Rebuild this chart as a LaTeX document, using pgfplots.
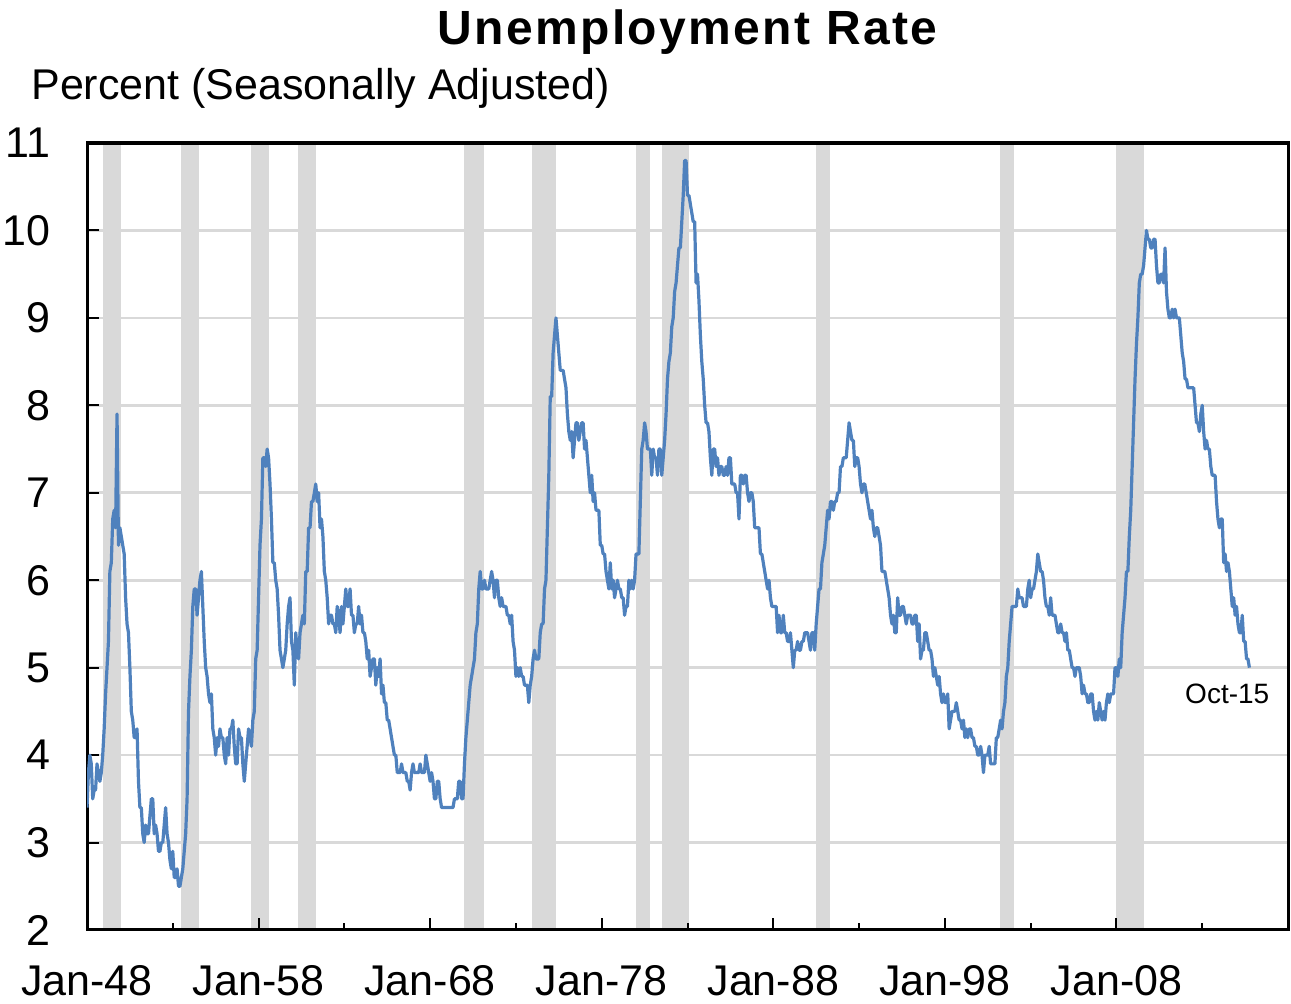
\documentclass[border=0pt]{standalone}
\usepackage{pgfplots}
\pgfplotsset{compat=1.18}
\usepackage{pgfplotstable}
\usepackage{fontspec}
\setmainfont{Liberation Sans}
\newfontfamily\titlefont[LetterSpace=5]{Liberation Sans}
\definecolor{lineblue}{RGB}{79,129,189}
\definecolor{recgray}{RGB}{217,217,217}

% US unemployment rate, monthly, Jan 1948 - Oct 2015 (row index = months since Jan 1948)
\pgfplotstableread[row sep=\\]{
u\\
3.4\\3.8\\4.0\\3.9\\3.5\\3.6\\3.6\\3.9\\3.8\\3.7\\3.8\\4.0\\
4.3\\4.7\\5.0\\5.3\\6.1\\6.2\\6.7\\6.8\\6.6\\7.9\\6.4\\6.6\\
6.5\\6.4\\6.3\\5.8\\5.5\\5.4\\5.0\\4.5\\4.4\\4.2\\4.2\\4.3\\
3.7\\3.4\\3.4\\3.1\\3.0\\3.2\\3.1\\3.1\\3.3\\3.5\\3.5\\3.1\\
3.2\\3.1\\2.9\\2.9\\3.0\\3.0\\3.2\\3.4\\3.1\\3.0\\2.8\\2.7\\
2.9\\2.6\\2.6\\2.7\\2.5\\2.5\\2.6\\2.7\\2.9\\3.1\\3.5\\4.5\\
4.9\\5.2\\5.7\\5.9\\5.9\\5.6\\5.8\\6.0\\6.1\\5.7\\5.3\\5.0\\
4.9\\4.7\\4.6\\4.7\\4.3\\4.2\\4.0\\4.2\\4.1\\4.3\\4.2\\4.2\\
4.0\\3.9\\4.2\\4.0\\4.3\\4.3\\4.4\\4.1\\3.9\\3.9\\4.3\\4.2\\
4.2\\3.9\\3.7\\3.9\\4.1\\4.3\\4.2\\4.1\\4.4\\4.5\\5.1\\5.2\\
5.8\\6.4\\6.7\\7.4\\7.4\\7.3\\7.5\\7.4\\7.1\\6.7\\6.2\\6.2\\
6.0\\5.9\\5.6\\5.2\\5.1\\5.0\\5.1\\5.2\\5.5\\5.7\\5.8\\5.3\\
5.2\\4.8\\5.4\\5.2\\5.1\\5.4\\5.5\\5.6\\5.5\\6.1\\6.1\\6.6\\
6.6\\6.9\\6.9\\7.0\\7.1\\6.9\\7.0\\6.6\\6.7\\6.5\\6.1\\6.0\\
5.8\\5.5\\5.6\\5.6\\5.5\\5.5\\5.4\\5.7\\5.6\\5.4\\5.7\\5.5\\
5.7\\5.9\\5.7\\5.7\\5.9\\5.6\\5.6\\5.4\\5.5\\5.5\\5.7\\5.5\\
5.6\\5.4\\5.4\\5.3\\5.1\\5.2\\4.9\\5.0\\5.1\\5.1\\4.8\\5.0\\
4.9\\5.1\\4.7\\4.8\\4.6\\4.6\\4.4\\4.4\\4.3\\4.2\\4.1\\4.0\\
4.0\\3.8\\3.8\\3.8\\3.9\\3.8\\3.8\\3.8\\3.7\\3.7\\3.6\\3.8\\
3.9\\3.8\\3.8\\3.8\\3.8\\3.9\\3.8\\3.8\\3.8\\4.0\\3.9\\3.8\\
3.7\\3.8\\3.7\\3.5\\3.5\\3.7\\3.7\\3.5\\3.4\\3.4\\3.4\\3.4\\
3.4\\3.4\\3.4\\3.4\\3.4\\3.5\\3.5\\3.5\\3.7\\3.7\\3.5\\3.5\\
3.9\\4.2\\4.4\\4.6\\4.8\\4.9\\5.0\\5.1\\5.4\\5.5\\5.9\\6.1\\
5.9\\5.9\\6.0\\5.9\\5.9\\5.9\\6.0\\6.1\\6.0\\5.8\\6.0\\6.0\\
5.8\\5.7\\5.8\\5.7\\5.7\\5.7\\5.6\\5.6\\5.5\\5.6\\5.3\\5.2\\
4.9\\5.0\\4.9\\5.0\\4.9\\4.9\\4.8\\4.8\\4.8\\4.6\\4.8\\4.9\\
5.1\\5.2\\5.1\\5.1\\5.1\\5.4\\5.5\\5.5\\5.9\\6.0\\6.6\\7.2\\
8.1\\8.1\\8.6\\8.8\\9.0\\8.8\\8.6\\8.4\\8.4\\8.4\\8.3\\8.2\\
7.9\\7.7\\7.6\\7.7\\7.4\\7.6\\7.8\\7.8\\7.6\\7.7\\7.8\\7.8\\
7.5\\7.6\\7.4\\7.2\\7.0\\7.2\\6.9\\7.0\\6.8\\6.8\\6.8\\6.4\\
6.4\\6.3\\6.3\\6.1\\6.0\\5.9\\6.2\\5.9\\6.0\\5.8\\5.9\\6.0\\
5.9\\5.9\\5.8\\5.8\\5.6\\5.7\\5.7\\6.0\\5.9\\6.0\\5.9\\6.0\\
6.3\\6.3\\6.3\\6.9\\7.5\\7.6\\7.8\\7.7\\7.5\\7.5\\7.5\\7.2\\
7.5\\7.4\\7.4\\7.2\\7.5\\7.5\\7.2\\7.4\\7.6\\7.9\\8.3\\8.5\\
8.6\\8.9\\9.0\\9.3\\9.4\\9.6\\9.8\\9.8\\10.1\\10.4\\10.8\\10.8\\
10.4\\10.4\\10.3\\10.2\\10.1\\10.1\\9.4\\9.5\\9.2\\8.8\\8.5\\8.3\\
8.0\\7.8\\7.8\\7.7\\7.4\\7.2\\7.5\\7.5\\7.3\\7.4\\7.2\\7.3\\
7.3\\7.2\\7.2\\7.3\\7.2\\7.4\\7.4\\7.1\\7.1\\7.1\\7.0\\7.0\\
6.7\\7.2\\7.2\\7.1\\7.2\\7.2\\7.0\\6.9\\7.0\\7.0\\6.9\\6.6\\
6.6\\6.6\\6.6\\6.3\\6.3\\6.2\\6.1\\6.0\\5.9\\6.0\\5.8\\5.7\\
5.7\\5.7\\5.7\\5.4\\5.6\\5.4\\5.4\\5.6\\5.4\\5.4\\5.3\\5.3\\
5.4\\5.2\\5.0\\5.2\\5.2\\5.3\\5.2\\5.2\\5.3\\5.3\\5.4\\5.4\\
5.4\\5.3\\5.2\\5.4\\5.4\\5.2\\5.5\\5.7\\5.9\\5.9\\6.2\\6.3\\
6.4\\6.6\\6.8\\6.7\\6.9\\6.9\\6.8\\6.9\\6.9\\7.0\\7.0\\7.3\\
7.3\\7.4\\7.4\\7.4\\7.6\\7.8\\7.7\\7.6\\7.6\\7.3\\7.4\\7.4\\
7.3\\7.1\\7.0\\7.1\\7.1\\7.0\\6.9\\6.8\\6.7\\6.8\\6.6\\6.5\\
6.6\\6.6\\6.5\\6.4\\6.1\\6.1\\6.1\\6.0\\5.9\\5.8\\5.6\\5.5\\
5.6\\5.4\\5.4\\5.8\\5.6\\5.6\\5.7\\5.7\\5.6\\5.5\\5.6\\5.6\\
5.6\\5.5\\5.5\\5.6\\5.6\\5.3\\5.5\\5.1\\5.2\\5.2\\5.4\\5.4\\
5.3\\5.2\\5.2\\5.1\\4.9\\5.0\\4.9\\4.8\\4.9\\4.7\\4.6\\4.7\\
4.6\\4.6\\4.7\\4.3\\4.4\\4.5\\4.5\\4.5\\4.6\\4.5\\4.4\\4.4\\
4.3\\4.4\\4.2\\4.3\\4.2\\4.3\\4.3\\4.2\\4.2\\4.1\\4.1\\4.0\\
4.0\\4.1\\4.0\\3.8\\4.0\\4.0\\4.0\\4.1\\3.9\\3.9\\3.9\\3.9\\
4.2\\4.2\\4.3\\4.4\\4.3\\4.5\\4.6\\4.9\\5.0\\5.3\\5.5\\5.7\\
5.7\\5.7\\5.7\\5.9\\5.8\\5.8\\5.8\\5.7\\5.7\\5.7\\5.9\\6.0\\
5.8\\5.9\\5.9\\6.0\\6.1\\6.3\\6.2\\6.1\\6.1\\6.0\\5.8\\5.7\\
5.7\\5.6\\5.8\\5.6\\5.6\\5.6\\5.5\\5.4\\5.4\\5.5\\5.4\\5.4\\
5.3\\5.4\\5.2\\5.2\\5.1\\5.0\\5.0\\4.9\\5.0\\5.0\\5.0\\4.9\\
4.7\\4.8\\4.7\\4.7\\4.6\\4.6\\4.7\\4.7\\4.5\\4.4\\4.5\\4.4\\
4.6\\4.5\\4.4\\4.5\\4.4\\4.6\\4.7\\4.6\\4.7\\4.7\\4.7\\5.0\\
5.0\\4.9\\5.1\\5.0\\5.4\\5.6\\5.8\\6.1\\6.1\\6.5\\6.8\\7.3\\
7.8\\8.3\\8.7\\9.0\\9.4\\9.5\\9.5\\9.6\\9.8\\10.0\\9.9\\9.9\\
9.8\\9.8\\9.9\\9.9\\9.6\\9.4\\9.4\\9.5\\9.5\\9.4\\9.8\\9.3\\
9.1\\9.0\\9.0\\9.1\\9.0\\9.1\\9.0\\9.0\\9.0\\8.8\\8.6\\8.5\\
8.3\\8.3\\8.2\\8.2\\8.2\\8.2\\8.2\\8.0\\7.8\\7.8\\7.7\\7.9\\
8.0\\7.7\\7.5\\7.6\\7.5\\7.5\\7.3\\7.2\\7.2\\7.2\\6.9\\6.7\\
6.6\\6.7\\6.7\\6.2\\6.3\\6.1\\6.2\\6.1\\5.9\\5.7\\5.8\\5.6\\
5.7\\5.5\\5.4\\5.4\\5.6\\5.3\\5.3\\5.1\\5.1\\5.0\\
}\unrate

\begin{document}
\begin{tikzpicture}
\begin{axis}[
  set layers,
  scale only axis,
  width=600.5pt, height=393.5pt,
  xmin=0, xmax=840, ymin=2, ymax=11,
  line width=1.5pt,
  xtick={0,120,...,720},
  xticklabels={Jan-48,Jan-58,Jan-68,Jan-78,Jan-88,Jan-98,Jan-08},
  minor xtick={60,180,...,780},
  ytick={2,...,11},
  tick pos=left,
  tick align=inside,
  major tick length=6pt,
  minor tick length=3.5pt,
  tick style={black, line width=1pt},
  axis line style={black, line width=1.5pt},
  ymajorgrids,
  major grid style={recgray, line width=1.3pt},
  /pgf/number format/assume math mode=true,
  ticklabel style={font=\fontsize{21.5}{25}\selectfont},
  xticklabel style={anchor=base, yshift=-32.5pt},
  yticklabel style={anchor=east, inner sep=0pt, xshift=-18pt},
]
% recession bands
\addplot[fill=recgray, draw=none, on layer=axis background] coordinates {(11.5,2) (24,2) (24,11) (11.5,11)} -- cycle;
\addplot[fill=recgray, draw=none, on layer=axis background] coordinates {(66,2) (78.5,2) (78.5,11) (66,11)} -- cycle;
\addplot[fill=recgray, draw=none, on layer=axis background] coordinates {(115,2) (127,2) (127,11) (115,11)} -- cycle;
\addplot[fill=recgray, draw=none, on layer=axis background] coordinates {(147.5,2) (160,2) (160,11) (147.5,11)} -- cycle;
\addplot[fill=recgray, draw=none, on layer=axis background] coordinates {(263.5,2) (278,2) (278,11) (263.5,11)} -- cycle;
\addplot[fill=recgray, draw=none, on layer=axis background] coordinates {(311,2) (328,2) (328,11) (311,11)} -- cycle;
\addplot[fill=recgray, draw=none, on layer=axis background] coordinates {(384,2) (394,2) (394,11) (384,11)} -- cycle;
\addplot[fill=recgray, draw=none, on layer=axis background] coordinates {(402,2) (421,2) (421,11) (402,11)} -- cycle;
\addplot[fill=recgray, draw=none, on layer=axis background] coordinates {(510,2) (520,2) (520,11) (510,11)} -- cycle;
\addplot[fill=recgray, draw=none, on layer=axis background] coordinates {(638.5,2) (648.5,2) (648.5,11) (638.5,11)} -- cycle;
\addplot[fill=recgray, draw=none, on layer=axis background] coordinates {(720,2) (739.5,2) (739.5,11) (720,11)} -- cycle;
% unemployment rate
\addplot[lineblue, line width=1.6pt, mark=none, line join=round] table[x expr=\coordindex, y=u] {\unrate};
\node[font=\fontsize{14}{16}\selectfont] at (axis cs:797.5,4.7) {Oct-15};
\end{axis}
\node[font=\titlefont\bfseries\fontsize{24}{28}\selectfont, anchor=base] at ([yshift=49pt]current axis.north) {Unemployment Rate};
\node[font=\fontsize{21.5}{25}\selectfont, anchor=base west, inner sep=0pt] at ([xshift=-28pt, yshift=21.5pt]current axis.north west) {Percent (Seasonally Adjusted)};
\pgfresetboundingbox
\path ([xshift=-43.5pt, yshift=-36.5pt]current axis.south west) rectangle ([xshift=1.5pt, yshift=71.5pt]current axis.north east);
\end{tikzpicture}
\end{document}
